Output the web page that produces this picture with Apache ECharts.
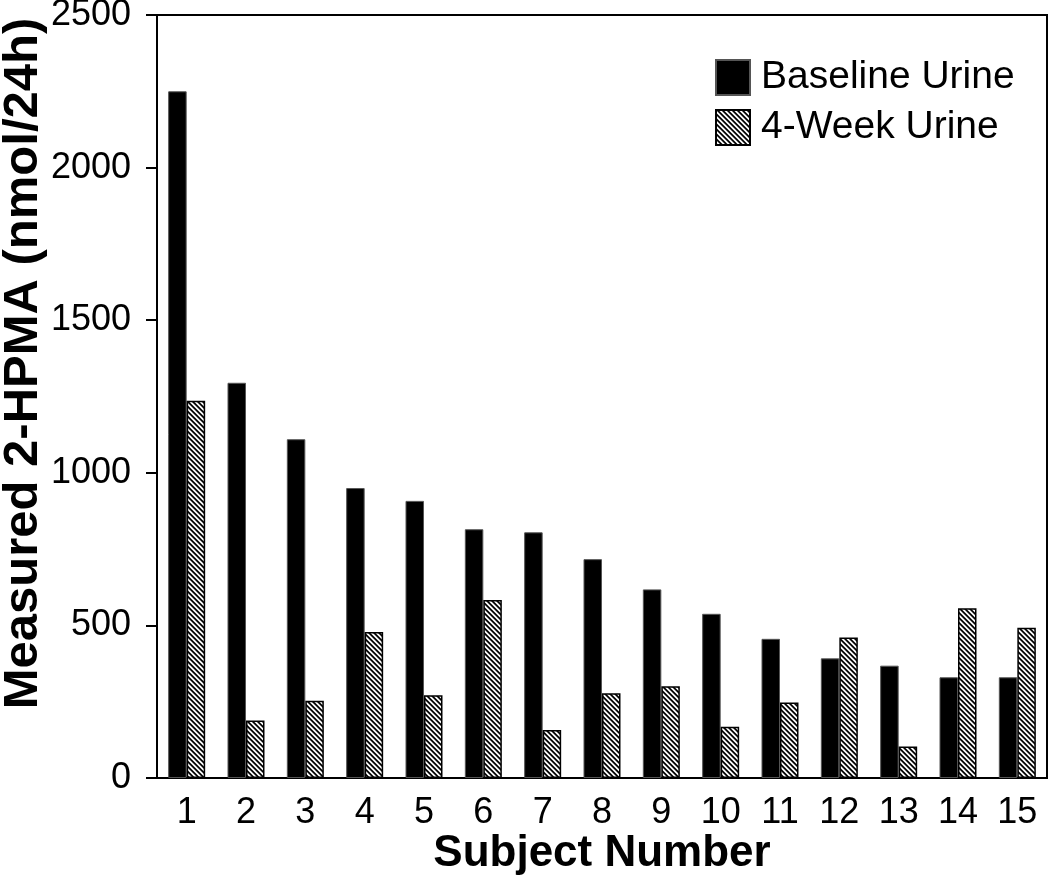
<!DOCTYPE html>
<html>
<head>
<meta charset="utf-8">
<script src="https://cdn.jsdelivr.net/npm/echarts@6/dist/echarts.min.js"></script>
<style>
html,body{margin:0;padding:0;background:#fff;}
#chart{width:1050px;height:888px;}
</style>
</head>
<body>
<div id="chart"></div>
<script>
const categories = ['1','2','3','4','5','6','7','8','9','10','11','12','13','14','15'];
const baselineUrine = [2250, 1295, 1110, 950, 908, 815, 805, 717, 618, 538, 456, 392, 368, 330, 330];
const fourWeekUrine = [1236, 188, 253, 478, 271, 583, 157, 278, 301, 168, 247, 460, 103, 556, 492];
const seriesNames = ['Baseline Urine', '4-Week Urine'];
const yMin = 0, yMax = 2500, yInterval = 500;

function makeHatch() {
  const s = 5, w = 2.5, ss = 8;
  const c = document.createElement('canvas');
  c.width = s; c.height = s;
  const ctx = c.getContext('2d');
  const img = ctx.createImageData(s, s);
  for (let y = 0; y < s; y++) {
    for (let x = 0; x < s; x++) {
      let blackCount = 0;
      for (let j = 0; j < ss; j++) {
        for (let k = 0; k < ss; k++) {
          const px = x + (k + 0.5) / ss, py = y + (j + 0.5) / ss;
          const d = (((px - py) % s) + s) % s;
          if (d < w) blackCount++;
        }
      }
      const v = Math.round(255 * (1 - blackCount / (ss * ss)));
      const i = (y * s + x) * 4;
      img.data[i] = v; img.data[i + 1] = v; img.data[i + 2] = v; img.data[i + 3] = 255;
    }
  }
  ctx.putImageData(img, 0, 0);
  return c;
}

const font = '"Liberation Sans", Arial, Helvetica, sans-serif';
const chart = echarts.init(document.getElementById('chart'), null, {renderer: 'canvas'});
chart.setOption({
  animation: false,
  backgroundColor: '#fff',
  textStyle: {fontFamily: font, color: '#000'},
  grid: {
    left: 157, right: 3, top: 15, bottom: 110,
    containLabel: false, outerBoundsMode: 'none',
    show: true, borderColor: '#000', borderWidth: 2, backgroundColor: 'transparent'
  },
  legend: {
    orient: 'vertical', left: 710, top: 53,
    itemWidth: 34, itemHeight: 35, itemGap: 11,
    icon: 'rect',
    textStyle: {fontSize: 39, color: '#000', fontFamily: font, padding: [0, 0, 0, 6]},
    data: seriesNames
  },
  xAxis: {
    type: 'category', data: categories,
    axisLine: {lineStyle: {color: '#000', width: 2}},
    axisTick: {show: false},
    axisLabel: {fontSize: 36, color: '#000', margin: 17, fontFamily: font},
    name: 'Subject Number', nameLocation: 'middle', nameGap: 54, nameMoveOverlap: false,
    nameTextStyle: {fontSize: 44, fontWeight: 'bold', color: '#000', fontFamily: font}
  },
  yAxis: {
    type: 'value', min: yMin, max: yMax, interval: yInterval,
    axisLine: {show: true, lineStyle: {color: '#000', width: 2}},
    axisTick: {show: true, length: 11, lineStyle: {color: '#000', width: 2}},
    splitLine: {show: false},
    axisLabel: {fontSize: 36, color: '#000', margin: 26, fontFamily: font, formatter: v => String(v)},
    name: 'Measured 2-HPMA (nmol/24h)', nameLocation: 'middle', nameGap: 109, nameMoveOverlap: false,
    nameTextStyle: {fontSize: 49, fontWeight: 'bold', color: '#000', fontFamily: font, padding: [0, 0, 0, 66]}
  },
  series: [
    {
      name: seriesNames[0], type: 'bar', data: baselineUrine,
      barWidth: 18.5, barGap: '0%',
      itemStyle: {color: '#000', borderColor: '#555', borderWidth: 1}
    },
    {
      name: seriesNames[1], type: 'bar', data: fourWeekUrine,
      barWidth: 18.5, barGap: '0%',
      itemStyle: {color: {image: makeHatch(), repeat: 'repeat'}, borderColor: '#000', borderWidth: 1.5}
    }
  ]
});
</script>
</body>
</html>
